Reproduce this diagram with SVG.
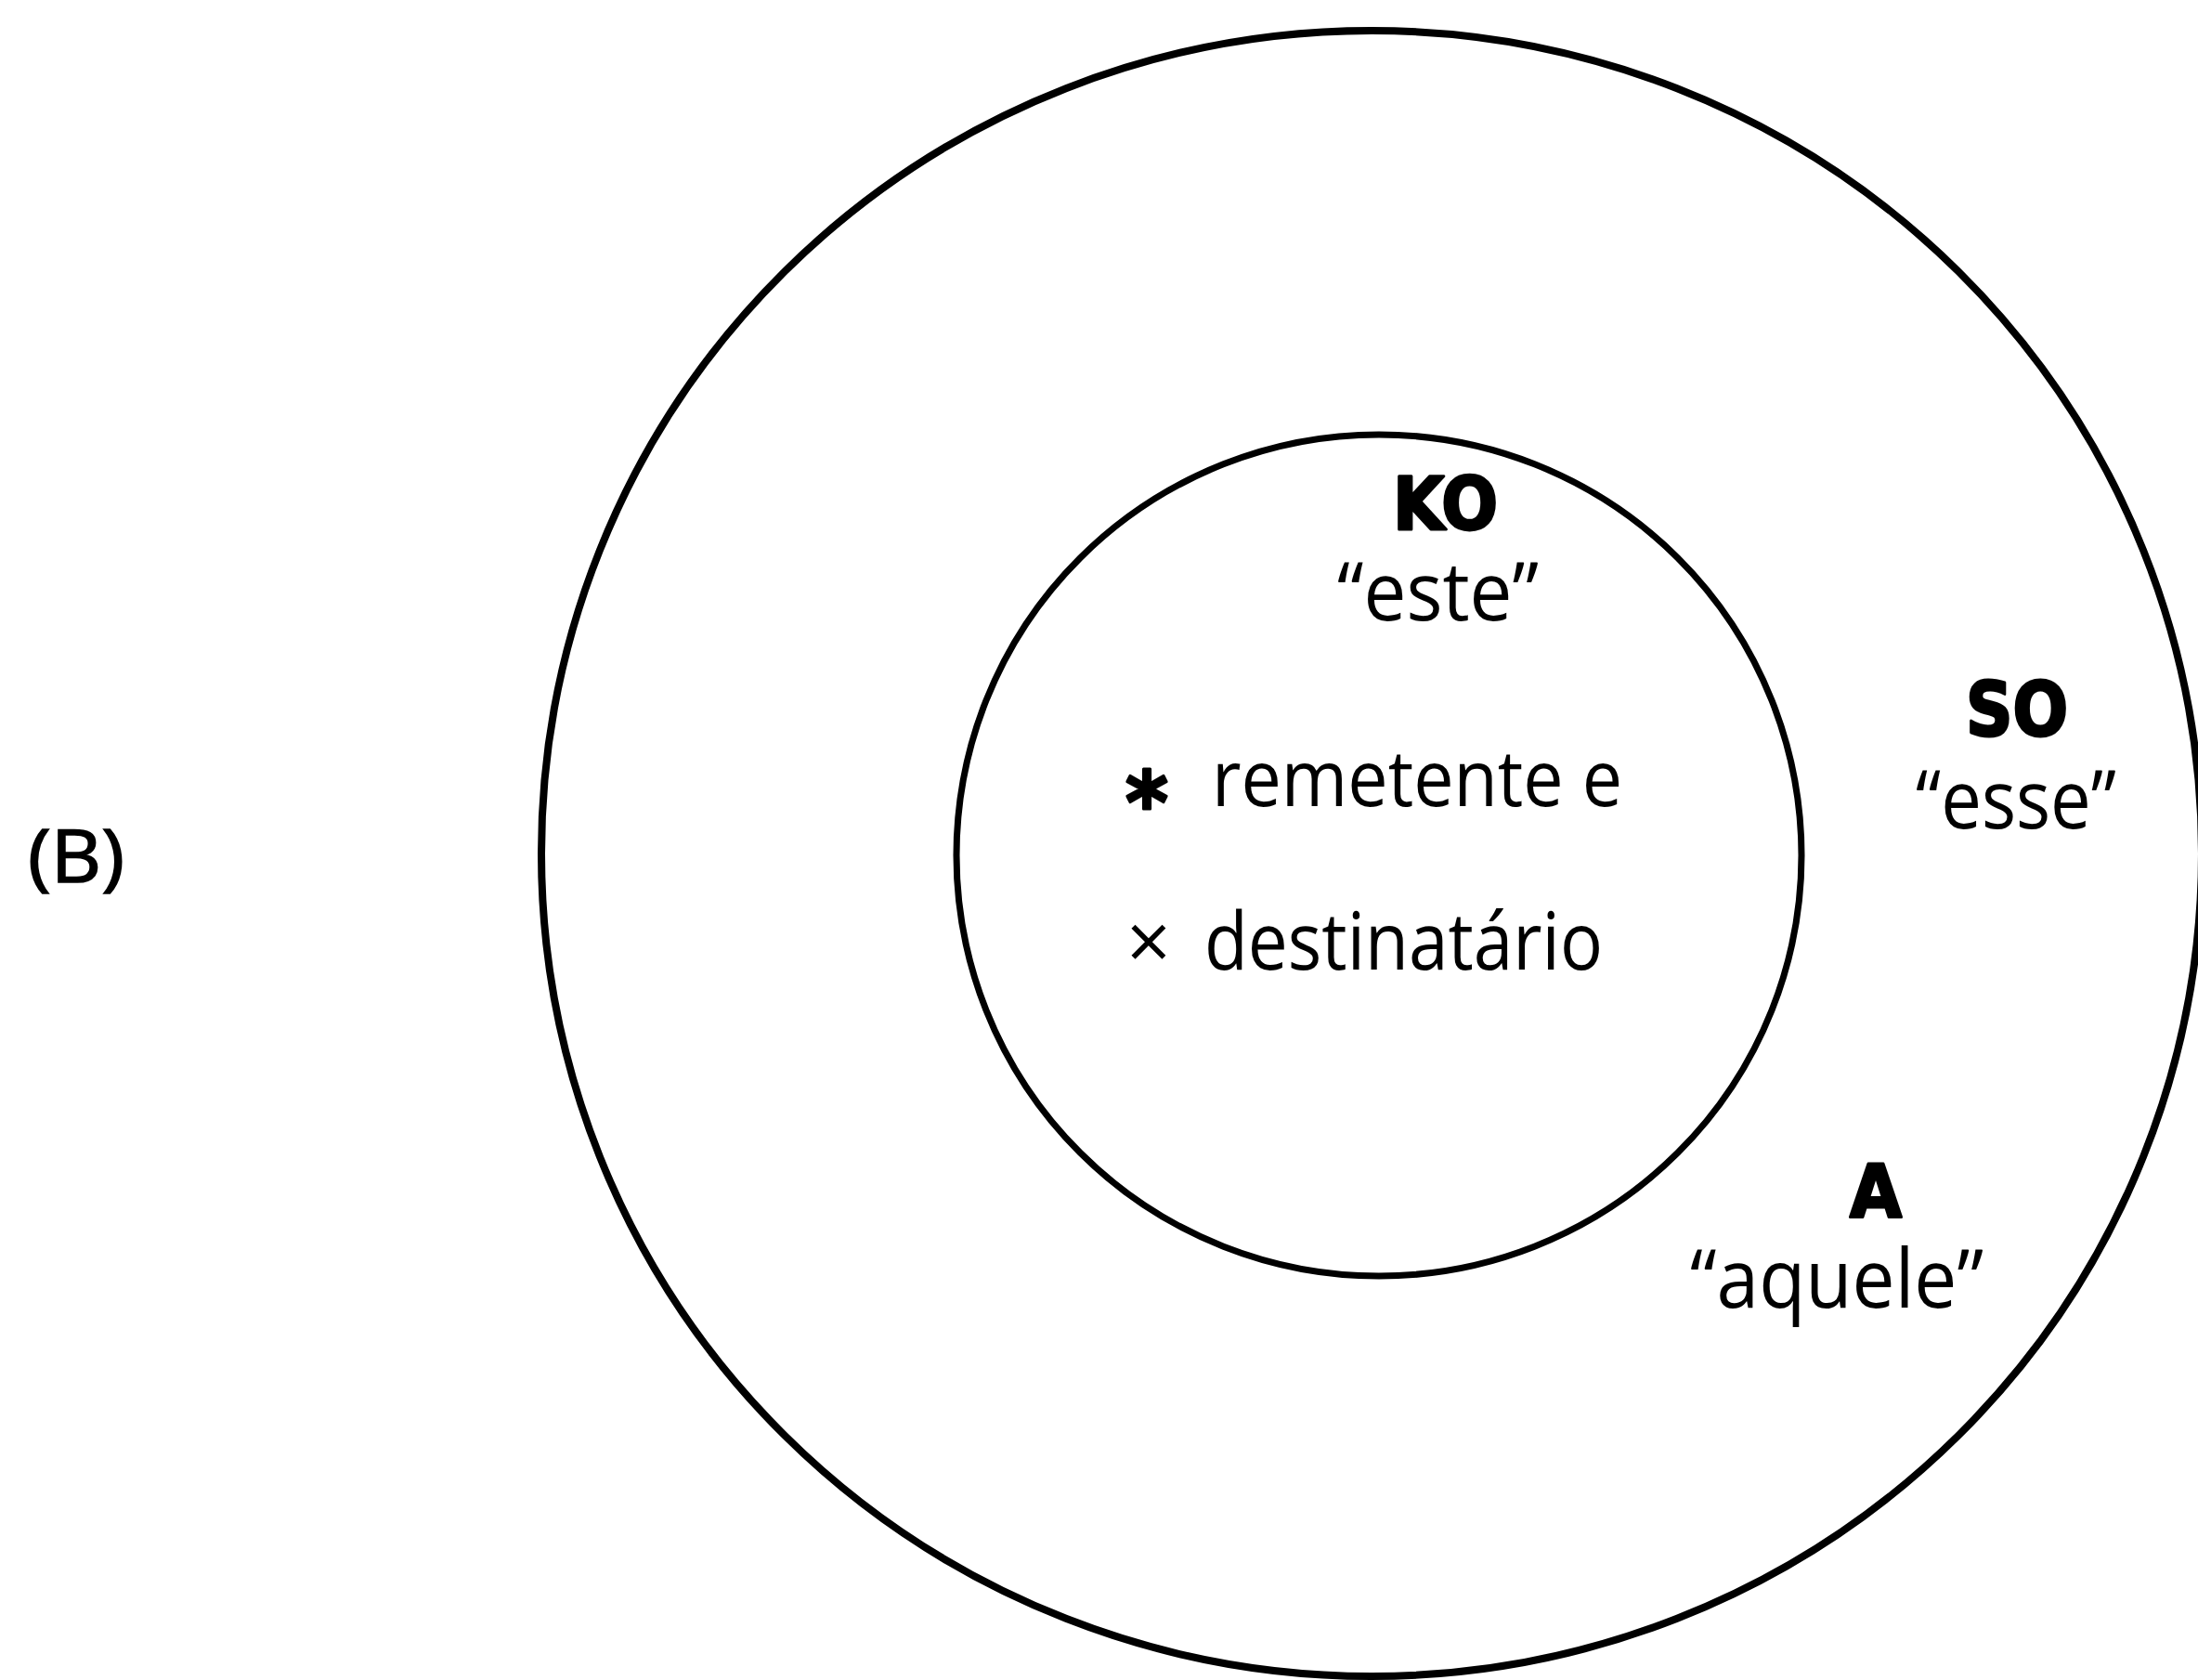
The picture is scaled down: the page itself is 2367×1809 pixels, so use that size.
<svg xmlns="http://www.w3.org/2000/svg" width="2367" height="1809" viewBox="0 0 2367 1809">
<style>
.ring{fill:none;stroke:#000;}
.lbl{font-family:"Open Sans","Noto Sans","Liberation Sans",sans-serif;fill:#000;}
.bold{font-family:"DejaVu Sans","Liberation Sans",sans-serif;font-weight:bold;fill:#000;stroke:#000;stroke-width:3;stroke-linejoin:round;}
</style>
<rect width="2367" height="1809" fill="#fff"/>
<g id="panel-label">
<text class="lbl" x="30" y="950" font-size="78" textLength="104" lengthAdjust="spacingAndGlyphs" stroke="#000" stroke-width="1.5">(B)</text>
</g>
<g id="outer-circle">
<ellipse class="ring" cx="1477" cy="919" rx="894" ry="886" stroke-width="8"/>
</g>
<g id="inner-circle">
<ellipse class="ring" cx="1485" cy="921" rx="455" ry="453" stroke-width="7"/>
</g>
<g id="ko">
<text class="bold" x="1500" y="570" font-size="78" textLength="113" lengthAdjust="spacingAndGlyphs">KO</text>
<text class="lbl" x="1440" y="668" font-size="88" textLength="217" lengthAdjust="spacingAndGlyphs">“este”</text>
</g>
<g id="participants">
<text class="bold" x="1212" y="897" font-size="92" textLength="46" lengthAdjust="spacingAndGlyphs" font-family="Liberation Sans, sans-serif">*</text>
<text class="lbl" x="1305" y="868" font-size="84" textLength="442" lengthAdjust="spacingAndGlyphs">remetente e</text>
<text class="lbl" x="1213" y="1044" font-size="84" textLength="48" lengthAdjust="spacingAndGlyphs">×</text>
<text class="lbl" x="1297" y="1044" font-size="86" textLength="429" lengthAdjust="spacingAndGlyphs">destinatário</text>
</g>
<g id="so">
<text class="bold" x="2117" y="792" font-size="80" textLength="110" lengthAdjust="spacingAndGlyphs">SO</text>
<text class="lbl" x="2063" y="892" font-size="88" textLength="216" lengthAdjust="spacingAndGlyphs">“esse”</text>
</g>
<g id="a">
<text class="bold" x="1992" y="1310" font-size="78" textLength="56" lengthAdjust="spacingAndGlyphs">A</text>
<text class="lbl" x="1820" y="1408" font-size="88" textLength="316" lengthAdjust="spacingAndGlyphs">“aquele”</text>
</g>
<g id="connectors"></g>
</svg>
